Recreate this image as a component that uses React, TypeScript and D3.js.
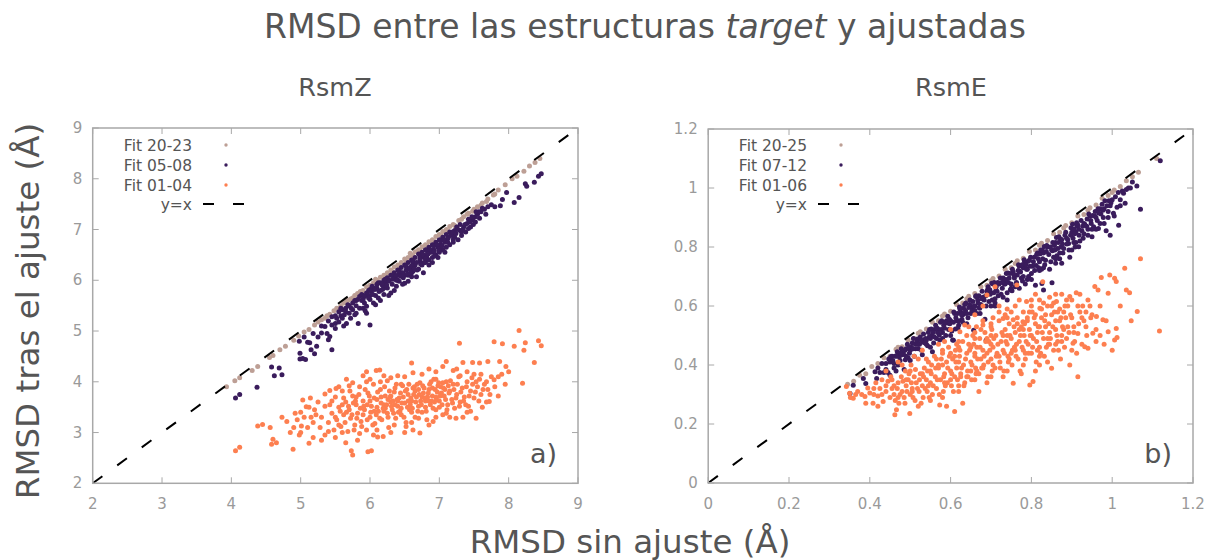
import React from "react";
import * as d3 from "d3";

const FONT = "'DejaVu Sans', Verdana, sans-serif";
const TEXT = "#555555";
const TICK_TEXT = "#9a9a9a";
const FRAME = "#a8a8a8";
const C_BROWN = "#bd9f95";
const C_PURPLE = "#3a1c5c";
const C_ORANGE = "#fd7f50";

type P = [number, number];

// ---------- RsmZ (panel a) ----------
const rsmZTicks = [2, 3, 4, 5, 6, 7, 8, 9];
const rsmZLegend = ["Fit 20-23", "Fit 05-08", "Fit 01-04"];

const rsmZ_fit2023: P[] = [
  [3.93,3.9],[4.05,4.02],[4.12,4.08],[4.3,4.22],[4.38,4.3],[4.55,4.48],[4.6,4.52],[4.7,4.63],[4.78,4.7],[4.9,4.82],
  [4.97,4.9],[5.05,4.98],[5.12,5.03],[5.2,5.12],[5.25,5.18],[5.3,5.22],[5.38,5.3],[5.42,5.33],[5.48,5.4],[5.52,5.45],
  [5.58,5.5],[5.62,5.55],[5.68,5.6],[5.72,5.63],[5.78,5.7],[5.82,5.74],[5.86,5.78],[5.9,5.8],[5.95,5.87],[6.0,5.9],
  [6.05,5.95],[6.1,6.0],[6.15,6.06],[6.2,6.1],[6.25,6.15],[6.3,6.2],[6.35,6.26],[6.4,6.3],[6.45,6.35],[6.5,6.42],
  [6.55,6.45],[6.6,6.5],[6.65,6.56],[6.7,6.6],[6.75,6.66],[6.8,6.7],[6.85,6.76],[6.9,6.8],[6.95,6.86],[7.0,6.9],
  [7.05,6.96],[7.1,7.0],[7.15,7.06],[7.2,7.1],[7.28,7.18],[7.35,7.25],[7.42,7.32],[7.5,7.4],[7.55,7.45],[7.62,7.52],
  [7.7,7.6],[7.78,7.68],[7.85,7.78],[7.95,7.88],[8.05,8.0],[8.12,8.05],[8.22,8.15],[8.3,8.25],[8.38,8.32],[8.45,8.4],
  [5.35,5.25],[5.55,5.44],[5.75,5.65],[6.02,5.88],[6.22,6.08],[6.42,6.28],[6.62,6.48],[6.82,6.68],[7.02,6.88],[7.22,7.08],
  [6.12,5.97],[6.32,6.17],[6.52,6.37],[6.72,6.58],[6.92,6.77],[7.12,6.97],[7.32,7.2],[6.58,6.53],[6.08,6.02],[5.65,5.58],
  [7.4,7.3],[7.6,7.48],[7.8,7.7],[7.48,7.36],[7.68,7.55],
];

const rsmZ_fit0508: P[] = [
  [4.06,3.68],[4.12,3.75],[4.37,3.89],[4.58,4.29],[4.62,4.12],[4.69,4.27],[4.73,4.14],[4.99,4.45],[5.03,4.46],[5.07,4.44],
  [4.99,4.56],[5.13,4.77],[5.23,4.7],[5.2,4.55],[5.15,4.63],[5.1,4.78],[4.98,4.8],[5.05,4.88],[5.18,4.95],[5.25,4.88],
  [5.3,4.96],[5.35,5.09],[5.4,4.83],[5.45,4.63],[5.42,4.89],[5.38,4.95],[5.45,5.12],[5.5,5.05],[5.52,5.25],[5.55,5.18],
  [5.58,5.3],[5.62,5.1],[5.66,5.15],[5.7,5.35],[5.72,5.25],[5.75,5.42],[5.78,5.32],[5.8,5.5],[5.83,5.15],[5.85,5.45],
  [5.88,5.6],[5.9,5.45],[5.92,5.55],[5.95,5.49],[5.97,5.7],[6.0,5.12],[6.0,5.62],[6.02,5.78],[6.05,5.55],[6.08,5.7],
  [6.1,5.85],[6.12,5.65],[6.15,5.8],[6.18,5.9],[6.2,5.72],[6.22,5.95],[6.25,5.85],[6.28,6.0],[6.3,5.75],[6.32,5.92],
  [6.35,6.05],[6.38,5.88],[6.4,6.1],[6.42,5.98],[6.45,6.15],[6.48,6.05],[6.5,5.94],[6.52,6.2],[6.55,6.1],[6.58,6.25],
  [6.6,6.07],[6.62,6.18],[6.65,6.3],[6.67,6.07],[6.7,6.22],[6.72,6.38],[6.75,6.3],[6.78,6.45],[6.8,6.35],[6.82,6.5],
  [6.85,6.4],[6.88,6.55],[6.9,6.45],[6.92,6.6],[6.95,6.5],[6.98,6.65],[7.0,6.55],[7.02,6.7],[7.05,6.6],[7.08,6.75],
  [7.1,6.65],[7.12,6.82],[7.15,6.7],[7.18,6.88],[7.2,6.75],[7.22,6.92],[7.27,6.8],[7.3,6.98],[7.32,6.88],[7.35,7.05],
  [7.38,6.95],[7.4,7.12],[7.45,7.05],[7.48,7.19],[7.49,7.1],[7.52,7.25],[7.55,7.3],[7.6,7.35],[7.65,7.4],[7.75,7.49],
  [7.8,7.45],[7.88,7.47],[7.91,7.59],[7.97,7.73],[8.08,7.53],[8.15,7.63],[8.24,7.9],[8.26,7.85],[8.37,7.93],[8.43,8.05],
  [8.47,8.1],
  [5.55,5.38],[5.65,5.45],[5.7,5.5],[5.8,5.6],[5.85,5.68],[5.95,5.75],[6.05,5.85],[6.15,5.95],[6.25,6.05],[6.35,6.15],
  [6.45,6.25],[6.55,6.35],[6.65,6.45],[6.75,6.55],[6.85,6.65],[6.95,6.75],[7.05,6.85],[7.15,6.95],[7.25,7.05],[7.1,6.9],
  [6.9,6.7],[6.7,6.52],[6.5,6.3],[6.3,6.1],[6.1,5.92],[5.9,5.7],[6.6,6.4],[6.8,6.6],[7.0,6.8],[6.4,6.2],
  [6.2,6.0],[6.0,5.82],[6.62,6.35],[6.72,6.48],[6.82,6.58],[6.92,6.68],[7.02,6.78],[7.22,6.98],[7.42,7.2],[7.62,7.42],
  [6.68,6.2],[6.85,6.3],[6.98,6.45],[6.55,5.98],[6.35,5.8],[6.15,5.6],[5.95,5.35],[6.5,6.1],[6.6,6.15],[7.3,7.1],
  [5.3,5.1],[5.4,5.2],[5.45,5.28],[5.5,5.3],[5.6,5.42],[5.65,5.38],[5.68,5.52],[5.75,5.55],[5.78,5.6],[5.82,5.62],
  [5.88,5.72],[5.92,5.68],[5.98,5.8],[6.03,5.88],[6.07,5.82],[6.12,5.95],[6.17,5.92],[6.22,6.02],[6.27,5.98],[6.32,6.1],
  [6.37,6.08],[6.42,6.18],[6.47,6.15],[6.52,6.28],[6.57,6.22],[6.62,6.38],[6.67,6.35],[6.72,6.42],[6.77,6.5],[6.82,6.45],
  [6.87,6.6],[6.92,6.55],[6.97,6.7],[7.02,6.62],[7.07,6.8],[7.12,6.75],[7.17,6.9],[7.22,6.85],[7.27,7.0],[7.32,6.95],
  [7.37,7.1],[7.42,7.02],[7.47,7.25],[7.52,7.15],[7.57,7.35],[7.67,7.3],[7.7,7.45],[7.58,7.22],[6.0,5.7],[6.2,5.85],
  [6.4,6.0],[6.6,6.28],[6.8,6.42],[7.0,6.62],[7.2,6.8],[5.6,5.25],[5.5,5.15],[5.8,5.35],
  [5.9,5.62],[5.98,5.65],[6.04,5.72],[6.13,5.78],[6.18,5.82],[6.24,5.9],[6.33,6.02],[6.38,6.0],[6.44,6.08],[6.53,6.12],
  [6.58,6.15],[6.64,6.22],[6.73,6.32],[6.78,6.35],[6.84,6.52],[6.93,6.48],[6.99,6.58],[7.04,6.68],[7.13,6.85],[7.19,6.95],
  [7.24,6.92],[7.34,7.0],[7.44,7.15],[7.53,7.35],[6.47,5.92],[6.27,5.7],[6.08,5.52],[5.93,5.4],[6.77,6.15],[6.9,6.35],
  [7.08,6.55],[5.73,5.45],[5.63,5.32],[5.58,5.45],
];

const rsmZ_fit0104: P[] = [
  [4.06,2.64],[4.12,2.71],[4.38,3.13],[4.45,3.16],[4.56,3.1],[4.73,3.3],[4.6,2.87],[4.65,2.8],[4.58,2.77],[4.89,2.67],
  [5.01,3.13],[4.98,2.95],[5.12,2.79],[5.03,3.64],[5.14,3.68],[5.08,3.51],[5.73,2.64],[5.75,2.56],[5.97,2.62],[6.02,2.64],
  [6.19,2.92],[6.11,2.91],[6.14,4.23],[6.09,4.22],[5.95,4.2],[5.9,4.12],[5.66,4.05],[5.51,3.87],[5.42,3.83],[5.35,3.76],
  [7.53,3.28],[7.34,3.3],[7.24,3.28],[7.72,3.61],[7.79,4.04],[7.53,4.0],[6.72,2.99],[6.62,3.05],[6.52,3.12],[6.91,3.22],
  [7.1,3.38],[8.15,5.01],[7.29,4.76],[7.79,4.79],[7.91,4.75],[8.08,4.7],[8.24,4.77],[8.22,4.62],[8.43,4.81],[8.47,4.71],
  [8.37,4.38],[8.2,3.97],[7.96,4.3],[7.87,4.4],[7.7,4.4],[7.58,4.37],[7.48,4.38],[7.34,4.38],[6.6,4.37],[7.1,4.4],
  [5.2,3.45],[5.25,3.6],[5.3,3.3],[5.18,3.2],[5.28,3.1],[5.35,3.52],[4.92,3.38],[4.8,3.22],[5.05,3.3],
  [5.4,3.2],[5.42,3.55],[5.45,3.38],[5.48,3.05],[5.5,3.7],[5.52,3.25],[5.55,3.5],[5.58,3.12],[5.6,3.82],[5.62,3.35],
  [5.65,3.6],[5.68,3.02],[5.7,3.45],[5.72,3.28],[5.75,3.72],[5.78,3.15],[5.8,3.55],[5.82,3.38],[5.85,3.9],[5.87,3.22],
  [5.9,3.62],[5.92,3.45],[5.95,3.05],[5.97,3.78],[6.0,3.3],[6.02,3.52],[6.05,3.95],[6.07,3.18],[6.1,3.65],[6.12,3.42],
  [6.15,3.85],[6.17,3.25],[6.2,3.55],[6.22,3.72],[6.25,3.38],[6.27,3.1],[6.3,3.6],[6.32,3.45],[6.35,3.8],[6.37,3.28],
  [6.4,3.52],[6.42,3.68],[6.45,3.35],[6.47,3.92],[6.5,3.58],[6.52,3.2],[6.55,3.75],[6.57,3.45],[6.6,3.62],[6.62,3.88],
  [6.65,3.3],[6.67,3.7],[6.7,3.52],[6.72,3.98],[6.75,3.4],[6.77,3.78],[6.8,3.62],[6.82,3.25],[6.85,3.85],[6.87,3.55],
  [6.9,3.72],[6.92,4.05],[6.95,3.45],[6.97,3.8],[7.0,3.62],[7.02,3.9],[7.05,3.35],[7.07,3.72],[7.1,4.0],[7.12,3.55],
  [7.15,3.82],[7.18,3.65],[7.2,3.95],[7.22,3.48],[7.25,3.75],[7.28,4.1],[7.3,3.6],[7.33,3.88],[7.36,3.7],[7.4,4.0],
  [7.42,3.52],[7.45,3.82],[7.48,3.95],[7.5,3.68],[7.55,3.9],[7.58,4.05],[7.6,3.75],[7.65,3.95],[7.7,3.85],[7.75,4.1],
  [6.22,3.48],[6.28,3.82],[6.33,3.62],[6.38,3.95],[6.43,3.42],[6.48,3.7],[6.53,3.85],[6.58,3.55],[6.63,3.75],[6.68,3.95],
  [6.73,3.62],[6.78,3.88],[6.83,3.7],[6.88,4.0],[6.93,3.6],[6.98,3.92],[7.03,3.78],[7.08,3.85],[7.13,3.92],[6.55,3.62],
  [6.65,3.82],[6.75,3.7],[6.85,3.62],[6.95,3.7],[7.05,3.98],[6.4,3.62],[6.3,3.72],[6.2,3.42],[6.1,3.5],[6.0,3.62],
  [5.9,3.35],[5.8,3.7],[6.45,3.48],[6.6,3.4],[6.7,3.85],[6.8,3.5],[6.9,3.88],[7.0,3.5],[6.36,3.55],[6.26,3.65],
  [6.16,3.58],[6.06,3.42],[5.96,3.55],[5.86,3.48],[5.76,3.58],[5.66,3.4],
  [5.6,3.0],[5.85,2.98],[6.1,3.05],[6.35,3.15],[6.6,3.2],[6.85,3.15],[5.55,3.9],[5.75,3.98],[6.0,4.05],[6.25,4.02],
  [6.5,4.1],[6.75,4.15],[6.95,4.2],[7.2,4.22],[5.15,3.3],[5.1,3.1],[5.0,3.4],[4.95,3.25],[4.85,3.0],[5.18,2.9],
  [5.35,2.95],[7.38,3.55],[7.62,3.5],[7.45,3.42],[7.8,3.9],[7.85,3.72],
  [5.45,3.62],[5.5,3.3],[5.55,3.15],[5.57,3.42],[5.62,3.68],[5.64,3.2],[5.69,3.52],[5.71,3.82],[5.74,3.35],[5.77,3.05],
  [5.79,3.62],[5.81,3.28],[5.84,3.75],[5.88,3.12],[5.91,3.52],[5.93,3.85],[5.96,3.25],[5.99,3.72],[6.01,3.4],[6.04,3.15],
  [6.06,3.68],[6.09,3.35],[6.11,3.8],[6.14,3.28],[6.16,3.7],[6.19,3.48],[6.21,3.9],[6.24,3.55],[6.26,3.3],[6.29,3.7],
  [6.31,3.52],[6.34,3.38],[6.36,3.88],[6.39,3.65],[6.41,3.4],[6.44,3.78],[6.46,3.58],[6.49,3.3],[6.51,3.82],[6.54,3.5],
  [6.56,3.95],[6.59,3.68],[6.61,3.48],[6.64,3.9],[6.66,3.6],[6.69,3.42],[6.71,3.75],[6.74,3.55],[6.76,3.92],[6.79,3.68],
  [6.81,3.42],[6.84,3.78],[6.86,3.95],[6.89,3.62],[6.91,3.48],[6.94,3.85],[6.96,3.65],[6.99,3.98],[7.01,3.72],[7.04,3.55],
  [7.06,3.88],[7.09,3.65],[7.11,3.45],[7.14,3.78],[7.16,4.02],[7.19,3.58],[7.21,3.85],[7.24,3.68],[7.26,3.95],[7.29,3.52],
  [7.31,3.8],[7.35,3.62],[7.39,3.9],[7.43,3.72],[7.47,4.08],[7.52,3.8],[7.57,3.62],[7.63,3.85],[7.68,4.0],[7.73,3.75],
  [7.6,4.15],[7.4,4.2],[7.25,4.25],[7.05,4.3],[6.85,4.25],[6.62,4.18],[6.4,4.12],[6.2,4.12],[6.5,3.0],[6.3,3.0],
  [6.05,2.95],[5.82,2.85],[5.65,2.8],[5.5,2.9],[5.4,3.02],[5.3,2.85],[5.22,3.35],[5.12,3.5],[5.0,3.0],[4.9,3.1],
  [6.7,3.28],[6.95,3.3],[7.15,3.3],[7.4,3.4],[5.95,4.0],[6.3,4.08],[6.95,4.05],[7.3,4.12],[7.5,4.15],[7.85,4.1],
  [7.95,3.95],[8.0,4.2],[7.68,3.6],[7.9,4.15],[6.45,3.95],[6.15,4.0],[5.7,3.92],[5.6,3.55],
];

// ---------- RsmE (panel b) ----------
const rsmETicks = [0, 0.2, 0.4, 0.6, 0.8, 1, 1.2];
const rsmELegend = ["Fit 20-25", "Fit 07-12", "Fit 01-06"];

const rsmE_fit2025: P[] = [
  [0.345,0.335],[0.36,0.345],[0.375,0.365],[0.39,0.37],[0.405,0.395],[0.42,0.405],[0.435,0.425],[0.45,0.43],[0.465,0.453],[0.48,0.462],
  [0.495,0.485],[0.51,0.49],[0.525,0.513],[0.54,0.522],[0.555,0.545],[0.57,0.55],[0.585,0.573],[0.6,0.582],[0.615,0.605],[0.63,0.61],
  [0.645,0.633],[0.66,0.642],[0.675,0.665],[0.69,0.67],[0.705,0.693],[0.72,0.702],[0.735,0.725],[0.75,0.73],[0.765,0.753],[0.78,0.762],
  [0.795,0.785],[0.81,0.79],[0.825,0.813],[0.84,0.822],[0.855,0.845],[0.87,0.85],[0.885,0.873],[0.9,0.882],[0.915,0.905],[0.93,0.91],
  [0.945,0.933],[0.96,0.942],[0.975,0.965],[0.99,0.975],[1.005,0.993],[1.02,1.005],[1.035,1.025],[1.05,1.038],[1.065,1.053],[1.11,1.1],
  [0.52,0.508],[0.58,0.566],[0.64,0.625],[0.7,0.686],[0.76,0.744],[0.82,0.806],[0.88,0.864],[0.94,0.925],[1.0,0.985],[0.47,0.46],
];

const rsmE_fit0712: P[] = [
  [0.351,0.303],[0.359,0.331],[0.384,0.354],[0.39,0.337],[0.413,0.377],[0.417,0.354],[0.45,0.365],
  [0.42,0.39],[0.425,0.375],[0.43,0.405],[0.435,0.375],[0.44,0.405],[0.445,0.375],[0.45,0.41],[0.455,0.43],[0.46,0.405],[0.465,0.38],
  [0.47,0.44],[0.475,0.415],[0.48,0.435],[0.485,0.385],[0.49,0.455],[0.495,0.425],[0.5,0.45],[0.505,0.475],[0.51,0.43],[0.515,0.47],
  [0.52,0.455],[0.525,0.495],[0.53,0.435],[0.535,0.485],[0.54,0.47],[0.545,0.51],[0.55,0.49],[0.555,0.445],[0.56,0.52],[0.565,0.49],
  [0.57,0.52],[0.575,0.545],[0.58,0.49],[0.585,0.525],[0.59,0.55],[0.595,0.52],[0.6,0.55],[0.605,0.485],[0.61,0.575],[0.615,0.55],
  [0.62,0.535],[0.625,0.58],[0.63,0.57],[0.635,0.605],[0.64,0.54],[0.645,0.595],[0.65,0.575],[0.655,0.615],[0.66,0.6],[0.665,0.575],
  [0.67,0.635],[0.675,0.605],[0.68,0.63],[0.685,0.555],[0.69,0.65],[0.695,0.615],[0.7,0.645],[0.705,0.675],[0.71,0.61],[0.715,0.65],
  [0.72,0.675],[0.725,0.64],[0.73,0.695],[0.735,0.675],[0.74,0.62],[0.745,0.695],[0.75,0.675],[0.755,0.715],[0.76,0.665],[0.765,0.705],
  [0.77,0.735],[0.775,0.695],[0.78,0.73],[0.785,0.675],[0.79,0.725],[0.795,0.755],[0.8,0.71],[0.805,0.75],[0.81,0.67],[0.815,0.78],
  [0.82,0.75],[0.825,0.725],[0.83,0.78],[0.835,0.755],[0.84,0.8],[0.845,0.725],[0.85,0.79],[0.855,0.765],[0.86,0.815],[0.865,0.795],
  [0.87,0.76],[0.875,0.825],[0.88,0.795],[0.885,0.85],[0.89,0.825],[0.895,0.765],[0.9,0.85],[0.905,0.815],[0.91,0.85],[0.915,0.875],
  [0.92,0.82],[0.925,0.855],[0.93,0.88],[0.94,0.86],[0.945,0.905],[0.95,0.835],[0.96,0.9],[0.965,0.93],[0.97,0.88],[0.98,0.93],
  [0.985,0.855],[0.99,0.92],[1.0,0.96],[1.005,0.905],[1.015,0.985],[1.02,0.96],[1.035,0.995],[1.05,1.02],
  [0.512,0.472],[0.532,0.477],[0.552,0.522],[0.572,0.502],[0.592,0.542],[0.612,0.522],[0.632,0.592],[0.652,0.597],[0.672,0.592],[0.692,0.657],
  [0.712,0.652],[0.732,0.687],[0.752,0.652],[0.772,0.717],[0.792,0.752],[0.812,0.737],[0.832,0.802],[0.852,0.787],[0.872,0.827],[0.892,0.812],
  [0.912,0.882],[0.932,0.877],[0.952,0.907],[0.972,0.912],[0.992,0.957],[0.622,0.597],[0.662,0.632],[0.702,0.677],[0.742,0.712],[0.782,0.757],
  [0.822,0.777],[0.862,0.832],[0.902,0.877],[0.942,0.912],[0.982,0.957],
  [0.607,0.484],[0.657,0.518],[0.688,0.484],[0.826,0.676],[0.83,0.654],[0.851,0.679],[0.917,0.801],[0.954,0.869],[0.966,0.863],[0.995,0.84],
  [1.003,0.914],[1.016,0.874],[1.028,0.982],[1.032,0.948],[1.04,1.0],[1.061,1.007],[1.07,0.928],[1.119,1.092],[0.97,0.93],[0.875,0.745],
  [0.452,0.428],[0.462,0.43],[0.468,0.445],[0.473,0.428],[0.478,0.455],[0.483,0.44],[0.488,0.418],[0.493,0.47],[0.498,0.44],[0.503,0.46],
  [0.508,0.49],[0.513,0.455],[0.518,0.488],[0.523,0.47],[0.528,0.45],[0.533,0.505],[0.538,0.49],[0.543,0.465],[0.548,0.52],[0.553,0.5],
  [0.558,0.475],[0.563,0.535],[0.568,0.51],[0.573,0.485],[0.578,0.55],[0.583,0.535],[0.588,0.5],[0.593,0.565],[0.598,0.54],[0.603,0.515],
  [0.608,0.58],[0.613,0.56],[0.618,0.525],[0.623,0.59],[0.628,0.555],[0.633,0.575],[0.638,0.61],[0.643,0.56],[0.648,0.62],[0.653,0.585],
  [0.658,0.6],[0.663,0.635],[0.668,0.61],[0.673,0.575],[0.678,0.65],[0.683,0.62],[0.688,0.6],[0.693,0.665],[0.698,0.64],[0.703,0.62],
  [0.708,0.68],[0.713,0.665],[0.718,0.635],[0.723,0.695],[0.728,0.66],[0.733,0.675],[0.738,0.71],[0.743,0.68],[0.748,0.655],[0.753,0.725],
  [0.758,0.695],[0.763,0.68],[0.768,0.74],[0.773,0.715],[0.778,0.685],[0.783,0.75],[0.788,0.725],[0.793,0.7],[0.798,0.765],[0.803,0.735],
  [0.808,0.72],[0.813,0.775],[0.818,0.73],[0.823,0.79],[0.828,0.76],[0.833,0.74],[0.838,0.805],[0.843,0.775],[0.848,0.75],[0.853,0.815],
  [0.858,0.79],[0.863,0.77],[0.868,0.835],[0.873,0.8],[0.878,0.78],[0.883,0.84],[0.888,0.81],[0.893,0.79],[0.898,0.865],[0.903,0.83],
  [0.908,0.8],[0.913,0.87],[0.918,0.84],[0.923,0.89],[0.928,0.83],[0.938,0.895],[0.948,0.88],[0.958,0.92],[0.963,0.89],[0.975,0.945],
  [0.978,0.9],[0.995,0.94],[1.008,0.97],[1.012,0.935],[1.025,0.99],[1.045,1.0],[0.96,0.86],[0.93,0.845],[0.905,0.86],[0.86,0.745],
  [0.8,0.69],[0.77,0.66],[0.73,0.63],[0.71,0.6],[0.64,0.575],[0.6,0.5],[0.55,0.46],[0.5,0.415],[0.47,0.4],
  [0.447,0.42],[0.457,0.415],[0.467,0.43],[0.477,0.44],[0.487,0.45],[0.497,0.46],[0.507,0.455],[0.517,0.48],[0.527,0.485],[0.537,0.475],
  [0.547,0.495],[0.557,0.51],[0.567,0.525],[0.577,0.52],[0.587,0.545],[0.597,0.555],[0.607,0.545],[0.617,0.575],[0.627,0.57],[0.637,0.585],
  [0.647,0.605],[0.657,0.585],[0.667,0.62],[0.677,0.625],[0.687,0.635],[0.697,0.655],[0.707,0.645],[0.717,0.68],[0.727,0.68],[0.737,0.69],
  [0.747,0.71],[0.757,0.705],[0.767,0.72],[0.777,0.74],[0.787,0.74],[0.797,0.735],[0.807,0.765],[0.817,0.76],[0.827,0.79],[0.837,0.785],
  [0.847,0.8],[0.857,0.805],[0.867,0.815],[0.877,0.81],[0.887,0.83],[0.897,0.84],[0.907,0.845],[0.917,0.86],[0.927,0.87],[0.937,0.87],
  [0.947,0.89],[0.957,0.905],[0.967,0.915],[0.977,0.925],[0.987,0.94],[0.997,0.95],
  [0.56,0.495],[0.58,0.51],[0.62,0.55],[0.66,0.585],[0.7,0.6],[0.74,0.645],[0.78,0.7],[0.82,0.72],[0.86,0.76],[0.9,0.79],
  [0.94,0.84],[0.98,0.88],[0.63,0.545],[0.67,0.595],[0.71,0.625],[0.75,0.66],[0.79,0.69],[0.83,0.73],[0.87,0.78],[0.91,0.815],
  [0.95,0.86],[0.99,0.9],[1.02,0.94],[0.54,0.485],[0.52,0.47],[0.49,0.43],[0.46,0.39],[0.44,0.385],
];

const rsmE_fit0106: P[] = [
  [0.342,0.327],[0.35,0.304],[0.352,0.29],[0.359,0.287],[0.37,0.31],[0.388,0.293],[0.395,0.322],[0.4,0.305],[0.408,0.27],[0.41,0.3],
  [0.42,0.295],[0.425,0.32],[0.433,0.276],[0.44,0.31],[0.445,0.345],[0.45,0.29],[0.452,0.36],[0.43,0.35],[0.415,0.34],
  [0.455,0.32],[0.46,0.3],[0.462,0.231],[0.466,0.248],[0.47,0.34],[0.472,0.27],[0.478,0.36],[0.48,0.31],[0.485,0.29],[0.488,0.38],
  [0.49,0.33],[0.495,0.35],[0.499,0.236],[0.5,0.3],[0.502,0.4],[0.505,0.32],[0.51,0.36],[0.512,0.28],[0.515,0.34],[0.52,0.42],
  [0.522,0.31],[0.525,0.37],[0.53,0.33],[0.532,0.29],[0.535,0.39],[0.54,0.35],[0.542,0.31],[0.545,0.41],[0.55,0.34],[0.552,0.37],
  [0.555,0.3],[0.56,0.43],[0.562,0.36],[0.565,0.32],[0.57,0.39],[0.573,0.264],[0.575,0.35],[0.58,0.44],[0.582,0.31],[0.585,0.37],
  [0.59,0.41],[0.592,0.34],[0.595,0.46],[0.6,0.38],[0.602,0.33],[0.605,0.42],[0.61,0.242],[0.61,0.36],[0.612,0.45],[0.615,0.39],
  [0.62,0.31],[0.622,0.43],[0.623,0.513],[0.625,0.37],[0.63,0.48],[0.632,0.4],[0.635,0.536],[0.635,0.34],[0.64,0.44],[0.642,0.38],
  [0.645,0.47],[0.65,0.41],[0.652,0.35],[0.655,0.5],[0.66,0.43],[0.662,0.39],[0.664,0.53],[0.665,0.46],[0.67,0.37],[0.672,0.49],
  [0.675,0.42],[0.68,0.536],[0.68,0.45],[0.682,0.4],[0.685,0.51],[0.69,0.44],[0.692,0.36],[0.695,0.48],[0.7,0.42],[0.702,0.52],
  [0.705,0.46],[0.71,0.39],[0.712,0.5],[0.715,0.44],[0.72,0.55],[0.722,0.41],[0.725,0.48],[0.73,0.558],[0.73,0.45],[0.732,0.38],
  [0.735,0.52],[0.74,0.47],[0.742,0.43],[0.745,0.54],[0.75,0.49],[0.752,0.4],[0.755,0.553],[0.755,0.338],[0.758,0.46],[0.76,0.51],
  [0.762,0.43],[0.765,0.56],[0.77,0.48],[0.772,0.38],[0.775,0.53],[0.779,0.547],[0.78,0.45],[0.782,0.5],[0.785,0.42],[0.788,0.615],
  [0.79,0.55],[0.792,0.47],[0.796,0.332],[0.795,0.52],[0.8,0.44],[0.802,0.58],[0.804,0.344],[0.805,0.49],[0.81,0.54],[0.812,0.41],
  [0.815,0.51],[0.82,0.4],[0.82,0.46],[0.821,0.592],[0.825,0.56],[0.83,0.49],[0.832,0.43],[0.835,0.53],[0.84,0.6],[0.842,0.47],
  [0.845,0.51],[0.85,0.389],[0.85,0.57],[0.855,0.45],[0.86,0.52],[0.862,0.615],[0.865,0.48],[0.87,0.55],[0.872,0.42],[0.875,0.5],
  [0.88,0.58],[0.882,0.46],[0.887,0.62],[0.887,0.49],[0.89,0.53],[0.895,0.632],[0.895,0.4],[0.9,0.56],[0.903,0.474],[0.905,0.51],
  [0.911,0.645],[0.912,0.44],[0.915,0.507],[0.915,0.36],[0.92,0.58],[0.925,0.47],[0.932,0.462],[0.935,0.53],[0.94,0.457],[0.945,0.6],
  [0.952,0.508],[0.957,0.666],[0.961,0.564],[0.965,0.654],[0.973,0.697],[0.977,0.553],[0.99,0.643],[0.99,0.513],[0.994,0.705],[1.006,0.694],
  [1.006,0.485],[1.01,0.683],[1.01,0.524],[1.012,0.493],[1.031,0.728],[1.035,0.654],[1.043,0.645],[1.047,0.55],[1.062,0.581],[1.07,0.76],
  [1.117,0.515],[0.98,0.47],[1.0,0.45],[0.97,0.6],[0.69,0.637],[0.71,0.665],[0.764,0.671],[0.828,0.682],[0.72,0.6],[0.6,0.52],
  [0.66,0.57],[0.68,0.6],[0.44,0.38],[0.47,0.41],
  [0.58,0.4],[0.62,0.41],[0.66,0.44],[0.7,0.47],[0.74,0.5],[0.78,0.52],[0.82,0.53],[0.86,0.55],[0.64,0.36],[0.68,0.39],
  [0.72,0.43],[0.76,0.45],[0.8,0.5],[0.84,0.49],[0.88,0.52],[0.55,0.38],[0.6,0.35],[0.65,0.38],[0.7,0.5],[0.75,0.44],
  [0.455,0.35],[0.463,0.28],[0.468,0.32],[0.475,0.3],[0.482,0.345],[0.487,0.27],[0.492,0.31],[0.497,0.37],[0.503,0.34],[0.507,0.29],
  [0.513,0.385],[0.518,0.32],[0.523,0.35],[0.527,0.27],[0.533,0.36],[0.537,0.32],[0.543,0.38],[0.547,0.29],[0.553,0.4],[0.557,0.33],
  [0.563,0.39],[0.567,0.35],[0.572,0.3],[0.577,0.42],[0.583,0.36],[0.587,0.33],[0.593,0.39],[0.597,0.43],[0.603,0.37],[0.607,0.31],
  [0.613,0.41],[0.617,0.35],[0.623,0.45],[0.627,0.39],[0.633,0.33],[0.637,0.42],[0.643,0.36],[0.647,0.45],[0.653,0.4],[0.657,0.47],
  [0.663,0.37],[0.667,0.42],[0.673,0.46],[0.677,0.39],[0.683,0.43],[0.687,0.48],[0.693,0.41],[0.697,0.45],[0.703,0.38],[0.707,0.49],
  [0.713,0.43],[0.717,0.47],[0.723,0.39],[0.727,0.51],[0.733,0.44],[0.737,0.48],[0.743,0.41],[0.747,0.5],[0.753,0.45],[0.757,0.53],
  [0.763,0.47],[0.767,0.42],[0.773,0.5],[0.777,0.46],[0.783,0.54],[0.787,0.48],[0.793,0.44],[0.797,0.5],[0.803,0.46],[0.807,0.56],
  [0.813,0.48],[0.817,0.53],[0.823,0.44],[0.827,0.51],[0.833,0.55],[0.837,0.46],[0.843,0.54],[0.847,0.49],[0.853,0.53],[0.857,0.58],
  [0.863,0.5],[0.867,0.45],[0.873,0.56],[0.877,0.53],[0.883,0.6],[0.893,0.51],[0.897,0.57],[0.907,0.48],[0.917,0.54],[0.927,0.6],
  [0.937,0.5],[0.947,0.56],[0.62,0.46],[0.66,0.49],[0.7,0.53],[0.74,0.56],[0.78,0.58],[0.82,0.62],[0.86,0.64],[0.6,0.44],
  [0.64,0.5],[0.68,0.55],[0.72,0.58],[0.76,0.6],[0.8,0.62],[0.57,0.47],[0.53,0.45],[0.51,0.43],[0.48,0.4],[0.44,0.33],
  [0.43,0.3],[0.41,0.32],[0.38,0.3],[0.365,0.3],[0.39,0.27],[0.42,0.26],[0.52,0.26],[0.55,0.28],[0.58,0.29],[0.62,0.33],
  [0.66,0.35],[0.7,0.36],[0.74,0.38],[0.78,0.4],[0.82,0.43],[0.86,0.47],[0.9,0.45],[0.69,0.34],[0.73,0.36],[0.775,0.37],
  [0.81,0.38],[0.84,0.41],[0.63,0.27],[0.67,0.31],[0.59,0.26],[0.565,0.42],[0.585,0.48],[0.615,0.47],[0.645,0.53],[0.675,0.52],
  [0.705,0.56],[0.735,0.57],[0.765,0.54],[0.795,0.58],[0.825,0.59],[0.855,0.61],[0.885,0.56],[0.915,0.6],[0.875,0.64],[0.845,0.63],
  [0.925,0.56],[0.96,0.52],[0.94,0.62],
  [0.8,0.6],[0.81,0.64],[0.83,0.61],[0.85,0.6],[0.87,0.59],[0.89,0.6],[0.9,0.62],[0.92,0.64],[0.93,0.55],[0.95,0.57],
  [0.96,0.48],[0.97,0.5],[0.985,0.55],[1.02,0.6],[0.74,0.59],[0.77,0.62],[0.79,0.56],[0.81,0.57],[0.77,0.52],[0.73,0.5],
  [0.69,0.49],[0.65,0.46],[0.61,0.43],[0.57,0.4],[0.53,0.37],[0.49,0.35],[0.46,0.33],[0.5,0.38],[0.54,0.42],[0.58,0.45],
  [0.62,0.48],[0.66,0.51],[0.7,0.54],[0.75,0.58],[0.785,0.44],[0.745,0.42],[0.705,0.4],[0.665,0.38],[0.625,0.36],[0.585,0.34],
  [0.545,0.33],[0.505,0.31],[0.47,0.29],[0.815,0.45],[0.845,0.47],[0.875,0.48],[0.905,0.53],[0.935,0.58],[0.835,0.57],[0.865,0.58],
];

type PanelProps = {
  xPx: [number, number];
  yPx: [number, number];
  domain: [number, number];
  ticks: number[];
  series: P[][];
  colors: string[];
  legend: string[];
  legendRight: number;
  letter: string;
  lineMax: number;
  fmt: (v: number) => string;
};

function Panel(p: PanelProps) {
  const x = d3.scaleLinear().domain(p.domain).range(p.xPx);
  const y = d3.scaleLinear().domain(p.domain).range(p.yPx);
  const [xl, xr] = p.xPx;
  const [yb, yt] = p.yPx;
  const tl = 6;
  const legendY = [145, 165, 185, 204];
  return (
    <g>
      {p.series.map((s, si) => (
        <g key={si} fill={p.colors[si]}>
          {s.map((d, i) => (
            <circle key={i} cx={x(d[0])} cy={y(d[1])} r={2.5} />
          ))}
        </g>
      ))}
      <line
        x1={x(p.domain[0])}
        y1={y(p.domain[0])}
        x2={x(p.lineMax)}
        y2={y(p.lineMax)}
        stroke="#000"
        strokeWidth={2}
        strokeDasharray="12,18.4"
      />
      <rect x={xl} y={yt} width={xr - xl} height={yb - yt} fill="none" stroke={FRAME} strokeWidth={1.5} />
      {p.ticks.map((t, i) => (
        <g key={"t" + i} stroke={FRAME} strokeWidth={1}>
          <line x1={x(t)} x2={x(t)} y1={yb} y2={yb - tl} />
          <line x1={x(t)} x2={x(t)} y1={yt} y2={yt + tl} />
          <line x1={xl} x2={xl + tl} y1={y(t)} y2={y(t)} />
          <line x1={xr} x2={xr - tl} y1={y(t)} y2={y(t)} />
        </g>
      ))}
      {p.ticks.map((t, i) => (
        <text key={"xl" + i} x={x(t)} y={yb + 26} textAnchor="middle" fontSize={15} fill={TICK_TEXT}>
          {p.fmt(t)}
        </text>
      ))}
      {p.ticks.map((t, i) => (
        <text key={"yl" + i} x={xl - 10.5} y={y(t) + 5} textAnchor="end" fontSize={15} fill={TICK_TEXT}>
          {p.fmt(t)}
        </text>
      ))}
      {p.legend.map((l, i) => (
        <g key={"lg" + i}>
          <text x={p.legendRight} y={legendY[i] + 5.5} textAnchor="end" fontSize={15.5} fill={TEXT}>
            {l}
          </text>
          <circle cx={p.legendRight + 34} cy={legendY[i]} r={1.7} fill={p.colors[i]} />
        </g>
      ))}
      <text x={p.legendRight} y={legendY[3] + 5.5} textAnchor="end" fontSize={15.5} fill={TEXT}>
        y=x
      </text>
      <line
        x1={p.legendRight + 11}
        x2={p.legendRight + 52}
        y1={legendY[3]}
        y2={legendY[3]}
        stroke="#000"
        strokeWidth={2}
        strokeDasharray="11,19"
      />
      <text x={xr - 21} y={yb - 20} textAnchor="end" fontSize={27} fill={TEXT}>
        {p.letter}
      </text>
    </g>
  );
}

export default function App() {
  const fmtZ = (v: number) => d3.format("d")(v);
  const fmtE = (v: number) => String(Math.round(v * 10) / 10);
  return (
    <svg
      width={1210}
      height={560}
      style={{ position: "absolute", left: 0, top: 0, background: "#fff", fontFamily: FONT }}
      fontFamily={FONT}
    >
      <rect width={1210} height={560} fill="#fff" />
      <text x={645} y={38} textAnchor="middle" fontSize={33} fill={TEXT}>
        RMSD entre las estructuras <tspan fontStyle="italic">target</tspan> y ajustadas
      </text>
      <text x={335} y={96} textAnchor="middle" fontSize={25.5} fill={TEXT}>
        RsmZ
      </text>
      <text x={951} y={96} textAnchor="middle" fontSize={25.5} fill={TEXT}>
        RsmE
      </text>
      <text transform="translate(39,311) rotate(-90)" textAnchor="middle" fontSize={32.5} fill={TEXT}>
        RMSD tras el ajuste (Å)
      </text>
      <text x={630} y={553} textAnchor="middle" fontSize={32.5} fill={TEXT}>
        RMSD sin ajuste (Å)
      </text>
      <Panel
        xPx={[92.7, 578]}
        yPx={[483.3, 128]}
        domain={[2, 9]}
        ticks={rsmZTicks}
        series={[rsmZ_fit2023, rsmZ_fit0508, rsmZ_fit0104]}
        colors={[C_BROWN, C_PURPLE, C_ORANGE]}
        legend={rsmZLegend}
        legendRight={192}
        letter="a)"
        lineMax={8.86}
        fmt={fmtZ}
      />
      <Panel
        xPx={[708.2, 1193]}
        yPx={[483, 129]}
        domain={[0, 1.2]}
        ticks={rsmETicks}
        series={[rsmE_fit2025, rsmE_fit0712, rsmE_fit0106]}
        colors={[C_BROWN, C_PURPLE, C_ORANGE]}
        legend={rsmELegend}
        legendRight={807}
        letter="b)"
        lineMax={1.178}
        fmt={fmtE}
      />
    </svg>
  );
}
